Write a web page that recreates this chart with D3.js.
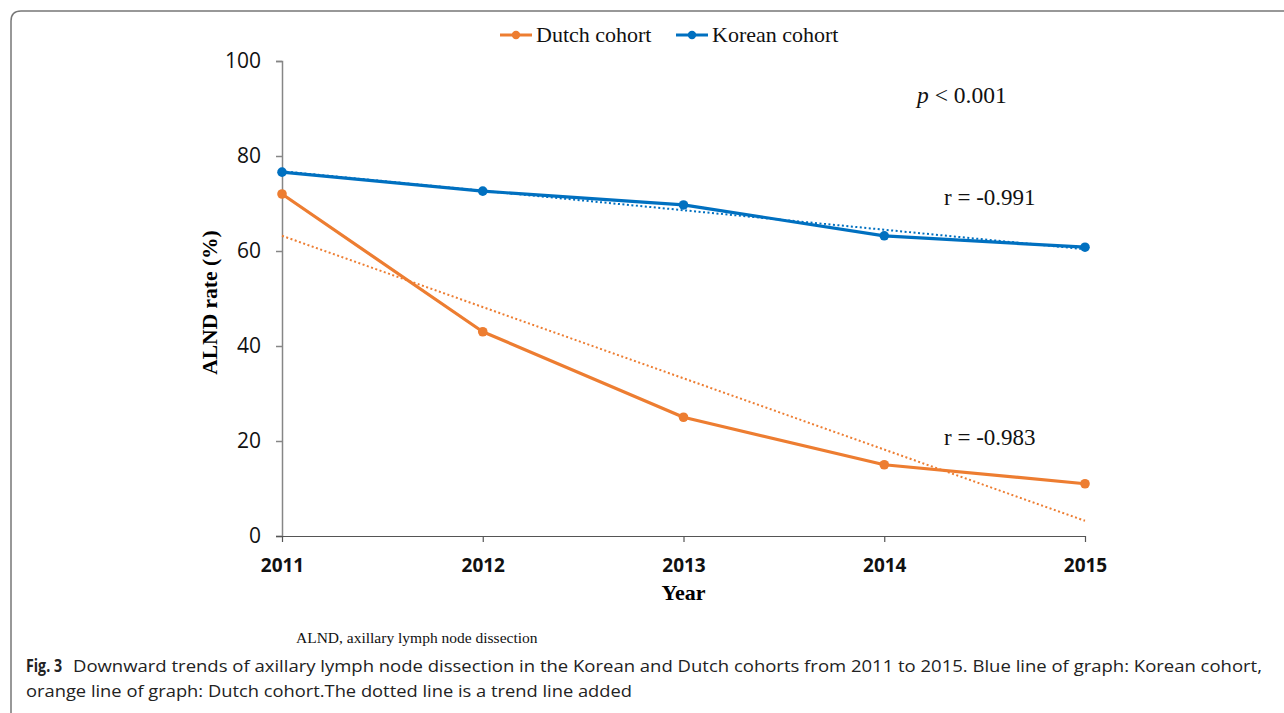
<!DOCTYPE html>
<html>
<head>
<meta charset="utf-8">
<script src="https://cdn.jsdelivr.net/npm/d3@7"></script>
<style>
  html, body { margin: 0; padding: 0; background: #fff; }
  svg { display: block; }
</style>
</head>
<body>
<svg id="chart" width="1284" height="713"></svg>
<script>
// ALND rate by year for the two cohorts
const years = [2011, 2012, 2013, 2014, 2015];
const dutchRates = [72, 43, 25, 15, 11];
const koreanRates = [76.6, 72.6, 69.7, 63.2, 60.8];
const yTicks = [0, 20, 40, 60, 80, 100];
const seriesNames = ["Dutch cohort", "Korean cohort"];
const seriesColors = ["#ED7D31", "#0070C0"];
const correlations = ["r = -0.983", "r = -0.991"];

const svg = d3.select("#chart");
const serif = "'Liberation Serif', 'Times New Roman', serif";
const sans = "'Open Sans', 'Noto Sans', sans-serif";

// Panel frame (rounded corner top-left, running off the right and bottom)
svg.append("path")
  .attr("d", "M11,713 L11,21 Q11,11 21,11 L1290,11")
  .attr("fill", "none")
  .attr("stroke", "#777")
  .attr("stroke-width", 1.5);

const x = d3.scaleLinear().domain([2011, 2015]).range([282, 1085]);
const y = d3.scaleLinear().domain([0, 100]).range([536, 61]);

// Y axis
const yAxis = svg.append("g")
  .attr("transform", `translate(${x(2011)},0)`)
  .call(d3.axisLeft(y).tickValues(yTicks).tickSize(6).tickPadding(15));
yAxis.select(".domain").attr("stroke", "#868686").attr("stroke-width", 1.5);
yAxis.selectAll(".tick line").attr("stroke", "#868686").attr("stroke-width", 1.5);
yAxis.selectAll(".tick text")
  .attr("font-family", sans)
  .attr("font-size", 21)
  .attr("fill", "#111");

// X axis
const xAxis = svg.append("g")
  .attr("transform", `translate(0,${y(0)})`)
  .call(d3.axisBottom(x).tickValues(years).tickFormat(d3.format("d")).tickSize(6).tickPadding(17));
xAxis.select(".domain").attr("stroke", "#555").attr("stroke-width", 1.2)
  .attr("d", `M${x(2011) - 6},0.5H${x(2015)}`);
xAxis.selectAll(".tick line").attr("stroke", "#555").attr("stroke-width", 1.2);
xAxis.selectAll(".tick text")
  .attr("font-family", sans)
  .attr("font-weight", "bold")
  .attr("font-size", 19)
  .attr("fill", "#111");

// Axis titles
svg.append("text")
  .attr("x", (x(2011) + x(2015)) / 2)
  .attr("y", 600)
  .attr("text-anchor", "middle")
  .attr("font-family", serif)
  .attr("font-weight", "bold")
  .attr("font-size", 22)
  .text("Year");

svg.append("text")
  .attr("transform", `translate(217,${(y(0) + y(100)) / 2 + 4}) rotate(-90)`)
  .attr("text-anchor", "middle")
  .attr("font-family", serif)
  .attr("font-weight", "bold")
  .attr("font-size", 21.5)
  .text("ALND rate (%)");

// Least-squares trend line
function trend(xs, ys) {
  const mx = d3.mean(xs), my = d3.mean(ys);
  const b = d3.sum(xs, (v, i) => (v - mx) * (ys[i] - my)) / d3.sum(xs, v => (v - mx) ** 2);
  const a = my - b * mx;
  return [[xs[0], a + b * xs[0]], [xs[xs.length - 1], a + b * xs[xs.length - 1]]];
}

const series = [dutchRates, koreanRates];
const line = d3.line().x(d => x(d[0])).y(d => y(d[1]));

series.forEach((vals, i) => {
  svg.append("path")
    .datum(trend(years, vals))
    .attr("d", line)
    .attr("fill", "none")
    .attr("stroke", seriesColors[i])
    .attr("stroke-width", 2)
    .attr("stroke-dasharray", "2,2.5");
});

series.forEach((vals, i) => {
  const pts = years.map((yr, j) => [yr, vals[j]]);
  svg.append("path")
    .datum(pts)
    .attr("d", line)
    .attr("fill", "none")
    .attr("stroke", seriesColors[i])
    .attr("stroke-width", 3.2)
    .attr("stroke-linejoin", "round");
  svg.append("g").selectAll("circle")
    .data(pts)
    .join("circle")
    .attr("cx", d => x(d[0]))
    .attr("cy", d => y(d[1]))
    .attr("r", 4.8)
    .attr("fill", seriesColors[i]);
});

// Legend
const legendX = [500, 676];
seriesNames.forEach((name, i) => {
  const g = svg.append("g").attr("transform", `translate(${legendX[i]},35)`);
  g.append("line").attr("x1", 0).attr("x2", 32).attr("stroke", seriesColors[i]).attr("stroke-width", 3);
  g.append("circle").attr("cx", 16).attr("r", 4.2).attr("fill", seriesColors[i]);
  g.append("text")
    .attr("x", 36).attr("y", 7)
    .attr("font-family", serif)
    .attr("font-size", 22)
    .attr("fill", "#111")
    .text(name);
});

// Annotations
const pText = svg.append("text")
  .attr("x", 917).attr("y", 103)
  .attr("font-family", serif).attr("font-size", 23.5).attr("fill", "#111");
pText.append("tspan").attr("font-style", "italic").text("p");
pText.append("tspan").text(" < 0.001");

svg.append("text").attr("x", 944).attr("y", 205)
  .attr("font-family", serif).attr("font-size", 23).attr("fill", "#111")
  .text(correlations[1]);
svg.append("text").attr("x", 944).attr("y", 445)
  .attr("font-family", serif).attr("font-size", 23).attr("fill", "#111")
  .text(correlations[0]);

// Footnote and caption
svg.append("text").attr("x", 296).attr("y", 643)
  .attr("font-family", serif).attr("font-size", 15.5).attr("fill", "#111")
  .text("ALND, axillary lymph node dissection");

svg.append("text").attr("x", 26).attr("y", 672)
  .attr("font-family", sans).attr("font-weight", "bold").attr("font-size", 17).attr("fill", "#222")
  .attr("textLength", 36).attr("lengthAdjust", "spacingAndGlyphs")
  .text("Fig. 3");
svg.append("text").attr("x", 73).attr("y", 672)
  .attr("font-family", sans).attr("font-size", 17).attr("fill", "#222")
  .attr("textLength", 1189).attr("lengthAdjust", "spacingAndGlyphs")
  .text("Downward trends of axillary lymph node dissection in the Korean and Dutch cohorts from 2011 to 2015. Blue line of graph: Korean cohort,");
svg.append("text").attr("x", 26).attr("y", 697)
  .attr("font-family", sans).attr("font-size", 17).attr("fill", "#222")
  .attr("textLength", 606).attr("lengthAdjust", "spacingAndGlyphs")
  .text("orange line of graph: Dutch cohort.The dotted line is a trend line added");
</script>
</body>
</html>
